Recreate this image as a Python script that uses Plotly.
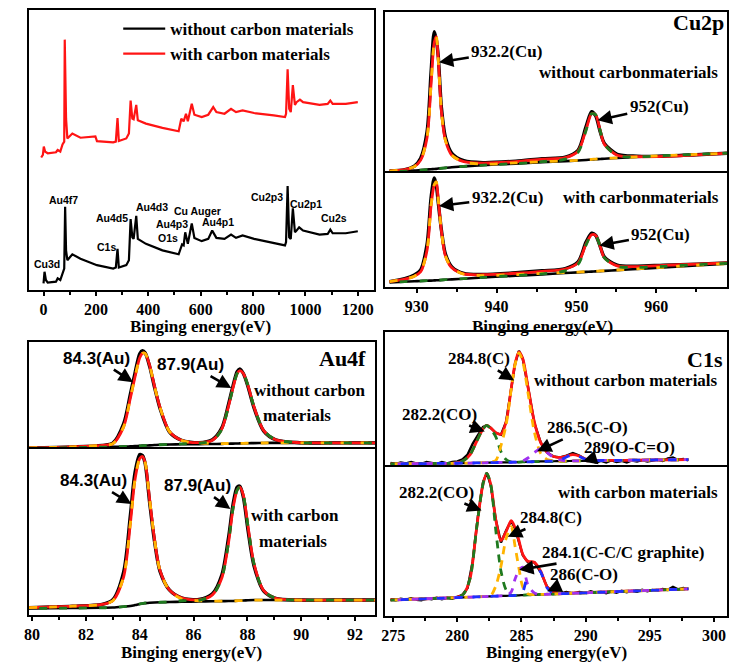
import plotly.graph_objects as go

# ---------------- survey (eV, intensity a.u.) ----------------
survey_black_x = [0, 3.75, 9, 16, 47.5, 54, 64, 72.5, 79, 82.5, 86, 91, 110, 141, 204, 266, 276, 282.5, 287.5, 316,
                  326, 332.5, 339, 344, 354, 360, 391, 454, 516, 529, 535, 541, 551, 566, 576, 604, 629, 644, 660, 691,
                  716, 735, 760, 804, 879, 922, 926, 932, 938, 944, 952, 960, 966, 976, 991, 1054, 1085, 1095, 1104, 1154, 1200]
survey_black_y = [6.3, 18, 9.7, 7, 8, 11.3, 9.7, 16.3, 21.3, 83.7, 39.7, 29.7, 35.7, 31.3, 24.7, 21.3, 22.3, 41.3, 22.3, 24.7,
                  29.7, 71.3, 53, 51.3, 74.7, 51.3, 46.3, 39.7, 35.7, 45.7, 44.7, 58, 46.3, 67, 52.3, 49, 51.3, 59.7, 52.3, 51.3,
                  55.7, 52.3, 54.7, 51.3, 47, 44.7, 48, 104.7, 53, 51.3, 82.3, 58, 59.7, 63, 59.7, 55.7, 56.3, 60.7, 57, 57, 59]
survey_red_x = [-9, -2.5, 1, 6, 16, 47.5, 54, 64, 72.5, 79, 81, 86, 91, 110, 141, 198, 204, 266, 276, 282.5,
                287.5, 316, 326, 332.5, 339, 344, 354, 360, 391, 454, 516, 526, 535, 544, 551, 566, 576, 604, 629, 648,
                660, 691, 716, 735, 760, 804, 879, 922, 926, 932, 938, 944, 952, 960, 966, 979, 991, 1054, 1085, 1095,
                1104, 1154, 1200]
survey_red_y = [133.7, 136.3, 144.7, 139.7, 138, 139, 141.3, 139.7, 147, 149.7, 253, 173, 153, 158, 153.7, 155, 150.3, 149, 149.7, 173.7,
                150.3, 153, 158, 191.3, 173, 172.3, 187, 171.3, 168, 163.7, 160.3, 173, 170.3, 178, 170.3, 188, 177, 174.7, 177, 184.7,
                179.7, 178, 183, 179.7, 181.3, 178.7, 176.3, 174.7, 178, 223, 183, 179.7, 207, 187, 189.7, 192.3, 189.7, 187, 188, 191.3,
                188, 188, 189.7]
survey_labels = ["Cu3d", "Au4f7", "Au4d5", "C1s", "Au4d3", "Cu Auger", "Au4p3", "O1s", "Au4p1", "Cu2p3", "Cu2p1", "Cu2s"]
survey_label_x = [15, 75, 262.5, 240, 412.5, 589, 491, 476, 667.5, 855, 1001, 1110]
survey_label_y = [26, 91, 72, 43, 84, 80, 66, 52, 68, 94, 87, 72]

# ---------------- Cu2p ----------------
cu_x = [926.6, 928.5, 929.7, 930.5, 931.3, 931.8, 932.2, 932.45, 932.7, 933.1, 933.6, 934.4, 935.9, 938.3, 942.4,
        945.7, 948.6, 950.2, 951.2, 951.9, 952.4, 953.0, 953.5, 955.1, 957.6, 960.9, 965.0, 968.85]
cu_top_raw = [2, 3.5, 7, 15, 42, 102, 143, 135, 118, 66, 36, 20, 12.5, 10.5, 12, 14.5, 16, 23, 47, 62, 58, 41, 30, 19, 17, 17, 18.5, 20]
cu_top_fit = [2, 3.5, 6.5, 13, 36, 90, 132, 138, 115, 62, 33, 18, 11.5, 10, 11.5, 14, 15.5, 22, 44, 60, 59, 42, 29, 18, 16.5, 16.8, 18.3, 20]
cu_top_bg = [1, 2, 2.5, 3, 3.5, 3.8, 4, 4.2, 4.5, 4.8, 5.2, 5.8, 6.7, 8, 9.5, 11, 12, 12.7, 13.2, 13.6, 13.9, 14.2, 14.5, 15.2, 16.2, 17.5, 18.8, 20]
cu_top_p1 = [2, 3.5, 6.5, 13, 36, 90, 132, 138, 115, 62, 33, 18, 11, 9, 10.2, 11.5, 12.2, 12.9, 13.4, 13.8, 14.1, 14.4, 14.7, 15.3, 16.3, 17.6, 18.9, 20]
cu_top_p2 = [1, 2, 2.5, 3, 3.5, 3.8, 4, 4.2, 4.5, 4.8, 5.2, 5.8, 6.7, 8, 9.6, 11.5, 14, 21, 43, 60, 59, 42, 29, 17.6, 16.4, 17.5, 18.9, 20]
cu_bot_raw = [5, 8, 11.7, 17, 43, 90, 110, 103, 85, 57, 33, 20, 13.3, 12.3, 14, 16, 18.3, 25, 45, 54, 52, 40, 30, 21.7, 20.7, 21.7, 22.7, 24]
cu_bot_fit = [5, 7.5, 10.5, 15, 37, 82, 103, 106, 88, 56, 31, 19, 12.8, 12, 13.5, 15.5, 17.8, 24, 43, 52.5, 52, 40, 29, 21, 20.3, 21.5, 22.7, 24]
cu_bot_bg = [4.3, 5, 5.4, 5.7, 6, 6.1, 6.3, 6.4, 6.5, 6.7, 7, 7.3, 8, 9.3, 11, 12.4, 13.7, 14.4, 14.9, 15.2, 15.4, 15.7, 15.9, 16.7, 17.8, 19.5, 21.5, 23.3]
cu_bot_p1 = [5, 7.5, 10.5, 15, 37, 82, 103, 106, 88, 56, 31, 19, 12.5, 11.2, 12.2, 13.3, 14.2, 14.7, 15.1, 15.4, 15.6, 15.9, 16.1, 16.8, 17.9, 19.6, 21.6, 23.3]
cu_bot_p2 = [4.3, 5, 5.4, 5.7, 6, 6.1, 6.3, 6.4, 6.5, 6.7, 7, 7.3, 8, 9.3, 11.2, 12.8, 16, 22.5, 42, 52.5, 52, 40, 29, 20.5, 19.5, 20.5, 22.2, 23.6]

# ---------------- Au4f ----------------
au_x = [79.88, 81.5, 82.6, 83.0, 83.4, 83.65, 83.82, 84.0, 84.1, 84.2, 84.37, 84.55, 84.75, 85.1, 85.55,
        86.2, 86.7, 87.05, 87.3, 87.47, 87.62, 87.72, 87.85, 88.02, 88.25, 88.6, 89.05, 89.95, 91.2, 92.76]
au_top_raw = [0.7, 1.8, 3.3, 5.5, 25, 55, 76, 96, 99, 97, 83, 62, 41, 17, 8.5, 6, 9, 21, 45, 64, 78, 80.7, 76, 63, 41, 18, 9, 6, 5.8, 5.8]
au_top_fit = [0.7, 1.8, 3.3, 5, 22, 51, 72, 92, 96.5, 96.5, 84, 63, 42, 17.5, 8.5, 6, 8.5, 20, 43, 62, 76, 79, 76, 64, 42, 18.5, 9, 6, 5.8, 5.8]
au_top_bg = [0.3, 1, 1.5, 1.8, 2, 2.3, 2.5, 2.8, 3, 3.1, 3.3, 3.6, 3.9, 4.2, 4.4, 4.6, 4.7, 4.8, 5, 5.1, 5.2, 5.3, 5.4, 5.5, 5.6, 5.7, 5.8, 5.8, 5.8, 5.8]
au_top_p1 = [0.7, 1.8, 3.3, 5, 22, 51, 72, 92, 96.5, 96.5, 84, 63, 42, 17.5, 8.3, 5.6, 5.2, 5.1, 5.2, 5.2, 5.3, 5.35, 5.4, 5.5, 5.6, 5.7, 5.8, 5.8, 5.8, 5.8]
au_top_p2 = [0.3, 1, 1.5, 1.8, 2, 2.3, 2.5, 2.8, 3, 3.1, 3.3, 3.6, 3.9, 4.3, 4.8, 5.5, 8, 19.5, 43, 62, 76, 79, 76, 64, 42, 18.5, 9, 6, 5.8, 5.8]
au_bot_raw = [7, 8.5, 10.3, 15, 43, 100, 143, 162, 161, 153, 113, 74, 44, 25, 17, 15.3, 21, 40, 78, 112, 129, 130, 119, 86, 49, 24, 16.5, 14.7, 14.7, 14.7]
au_bot_fit = [7, 8.5, 10.3, 14, 38, 92, 136, 158, 160, 154, 116, 76, 45, 25, 17, 15, 20, 37, 73, 108, 126, 129, 121, 90, 51, 24.5, 16.5, 14.7, 14.7, 14.7]
au_bot_bg = [6.3, 6.6, 6.9, 7.1, 8, 8.7, 9.6, 10.7, 11.3, 11.6, 12, 12.3, 12.5, 12.7, 13, 13.3, 13.5, 13.6, 13.7, 13.8, 14, 14.1, 14.3, 14.5, 14.7, 14.7, 14.7, 14.7, 14.7, 14.7]
au_bot_p1 = [7, 8.5, 10.3, 14, 38, 92, 136, 158, 160, 154, 116, 76, 45, 24.5, 16, 14, 13.7, 13.6, 13.7, 13.8, 14, 14.1, 14.3, 14.5, 14.7, 14.7, 14.7, 14.7, 14.7, 14.7]
au_bot_p2 = [6.3, 6.6, 6.9, 7.1, 8, 8.7, 9.6, 10.7, 11.3, 11.6, 12, 12.3, 12.5, 12.8, 14, 14.5, 19.5, 37, 73, 108, 126, 129, 121, 90, 51, 24.5, 16.5, 14.7, 14.7, 14.7]

# ---------------- C1s ----------------
c1_raw_x = [274.8, 275.2, 275.6, 276.0, 276.4, 276.8, 277.2, 277.6, 278.0, 278.4, 278.8, 279.2, 279.6, 280.0, 280.4,
            280.8, 281.2, 281.6, 282.0, 282.3, 282.6, 283.0, 283.4, 283.8, 284.2, 284.5, 284.8, 285.1, 285.5, 286.0,
            286.5, 287.0, 287.5, 288.0, 288.5, 289.0, 289.5, 290.0, 290.4, 290.8, 291.2, 291.6, 292.0, 292.4, 292.8,
            293.2, 293.6, 294.0, 294.4, 294.8, 295.2, 295.6, 296.0, 296.4, 296.8, 297.2, 297.6, 298.0]
c1_top_raw = [4.5, 3.5, 5, 4, 5.5, 4, 3.5, 5.5, 4.5, 3.5, 5.5, 4, 5.5, 6, 8,
              13, 24, 33, 41, 42.5, 40, 35, 33, 46, 80, 105, 118, 110, 82, 45,
              25, 15, 11, 10, 12, 14.5, 12, 8, 6.5, 5, 6.5, 5, 7, 5.5, 6.5,
              5, 7, 6, 7.5, 6, 7, 8, 6.5, 9, 10, 7.5, 8.5, 7]
c1_bot_raw = [16.5, 15.5, 17, 16, 17.5, 16, 15.5, 17.5, 16.5, 18, 16.5, 18, 17, 19, 21,
              28, 55, 100, 135, 144.5, 132, 97, 74, 86, 96, 88, 74, 61, 54, 54,
              44, 29, 24, 22.5, 24, 22.5, 24, 23, 24.5, 23, 24, 22.5, 24.5, 23, 25,
              23.5, 25, 24, 26, 24.5, 26, 25, 27, 26, 29, 26.5, 28, 27]
c1_x = [274.8, 276.5, 278.5, 280.0, 280.5, 281.0, 281.5, 282.0, 282.3, 282.6, 283.0, 283.4, 283.8, 284.2, 284.5, 284.8,
        285.1, 285.5, 286.0, 286.5, 287.0, 287.5, 288.0, 288.5, 289.0, 289.5, 290.0, 290.5, 291.5, 293.0, 295.0, 298.0]
c1_top_bg = [3.5, 3.8, 4.0, 4.2, 4.3, 4.4, 4.5, 4.6, 4.7, 4.8, 4.9, 5.0, 5.1, 5.2, 5.3, 5.4,
             5.5, 5.6, 5.8, 6.0, 6.1, 6.2, 6.3, 6.4, 6.5, 6.6, 6.7, 6.8, 7.0, 7.2, 7.5, 7.8]
c1_top_fit = [3.5, 3.8, 4.0, 4.5, 7, 13, 26, 39, 42.5, 40, 35, 33.5, 46, 80, 105, 117,
              110, 82, 46, 25, 15, 11, 10, 11.5, 13, 11.5, 8.5, 7.2, 7.1, 7.2, 7.5, 7.8]
c1_top_green = [3.5, 3.8, 4.0, 4.5, 7, 13, 26, 39, 42.5, 39, 31, 16, 8, 5.5, 5.3, 5.4,
                5.5, 5.6, 5.8, 6.0, 6.1, 6.2, 6.3, 6.4, 6.5, 6.6, 6.7, 6.8, 7.0, 7.2, 7.5, 7.8]
c1_top_orange = [3.5, 3.8, 4.0, 4.2, 4.3, 4.4, 4.5, 4.7, 5.0, 5.5, 7, 22, 43, 79, 104, 116,
                 107, 76, 36, 14, 8, 6.8, 6.4, 6.4, 6.5, 6.6, 6.7, 6.8, 7.0, 7.2, 7.5, 7.8]
c1_top_purple = [3.5, 3.8, 4.0, 4.2, 4.3, 4.4, 4.5, 4.6, 4.7, 4.8, 4.9, 5.0, 5.1, 5.2, 5.3, 5.6,
                 6.5, 9.5, 15, 19, 15, 10, 7.5, 6.6, 6.5, 6.6, 6.7, 6.8, 7.0, 7.2, 7.5, 7.8]
c1_top_blue = [3.5, 3.8, 4.0, 4.2, 4.3, 4.4, 4.5, 4.6, 4.7, 4.8, 4.9, 5.0, 5.1, 5.2, 5.3, 5.4,
               5.5, 5.6, 5.8, 6.0, 6.2, 6.5, 7.5, 10.5, 13, 11, 8, 7, 7.0, 7.2, 7.5, 7.8]
c1_bot_bg = [15.7, 16.5, 17.5, 18.2, 18.5, 18.7, 18.9, 19.2, 19.3, 19.5, 19.7, 19.9, 20.0, 20.2, 20.4, 20.5,
             20.7, 20.9, 21.1, 21.4, 21.6, 21.8, 22.1, 22.3, 22.6, 22.8, 23.0, 23.3, 23.8, 24.5, 25.5, 27.0]
c1_bot_fit = [16, 16.5, 17.6, 18.6, 22, 38, 88, 133, 144, 133, 97, 76, 85, 96, 89, 76,
              62, 55, 54, 45, 29, 24, 22.5, 22.6, 22.8, 23, 23.2, 23.4, 23.9, 24.6, 25.6, 27]
c1_bot_green = [15.7, 16.5, 17.5, 18.5, 22, 38, 88, 133, 144, 133, 86, 45, 26, 20.5, 20.4, 20.5,
                20.7, 20.9, 21.1, 21.4, 21.6, 21.8, 22.1, 22.3, 22.6, 22.8, 23.0, 23.3, 23.8, 24.5, 25.5, 27.0]
c1_bot_orange = [15.7, 16.5, 17.5, 18.2, 18.5, 18.7, 18.9, 19.2, 19.4, 20, 30, 50, 78, 90, 70, 48,
                 29, 22, 21.2, 21.4, 21.6, 21.8, 22.1, 22.3, 22.6, 22.8, 23.0, 23.3, 23.8, 24.5, 25.5, 27.0]
c1_bot_purple = [15.7, 16.5, 17.5, 18.2, 18.5, 18.7, 18.9, 19.2, 19.3, 19.5, 19.7, 19.9, 20.0, 24, 37, 46,
                 49, 31, 23, 21.5, 21.6, 21.8, 22.1, 22.3, 22.6, 22.8, 23.0, 23.3, 23.8, 24.5, 25.5, 27.0]
c1_bot_blue = [15.7, 16.5, 17.5, 18.2, 18.5, 18.7, 18.9, 19.2, 19.3, 19.5, 19.7, 19.9, 20.0, 20.2, 20.4, 20.5,
               24, 42, 52, 44, 28, 22.2, 22.1, 22.3, 22.6, 22.8, 23.0, 23.3, 23.8, 24.5, 25.5, 27.0]

# ---------------- figure ----------------
# The page body keeps its default 8px margin; the figure is sized so the page never scrolls.
W, H = 721, 655
SERIF = "Liberation Serif"
SANS = "Liberation Sans"
RED = "#FF1414"
ORANGE = "#FFB400"
GREEN = "#1F7A1F"
PURPLE = "#A030F0"
BLUE = "#1E2EFF"

fig = go.Figure()


def ax_names(n):
    return ("x", "y") if n == 1 else (f"x{n}", f"y{n}")


def add_line(x, y, n, color, width, dash=None, shape="spline", name=None, showlegend=False):
    xa, ya = ax_names(n)
    line = dict(color=color, width=width, shape=shape)
    if shape == "spline":
        line["smoothing"] = 0.8
    if dash:
        line["dash"] = dash
    fig.add_trace(go.Scatter(x=x, y=y, mode="lines", line=line, xaxis=xa, yaxis=ya,
                             name=name, showlegend=showlegend, hoverinfo="skip"))


# survey
add_line(survey_black_x, survey_black_y, 1, "black", 2.2, shape="linear",
         name="without carbon materials", showlegend=True)
add_line(survey_red_x, survey_red_y, 1, RED, 2.2, shape="linear",
         name="with carbon materials", showlegend=True)

D1 = "8px,12px"
D2 = "0px,10px,8px,2px"


def two_comp(n, x, raw, fit, bg, p1, p2, c1, c2):
    add_line(x, raw, n, "black", 3.4)
    add_line(x, bg, n, "black", 2.6)
    add_line(x, fit, n, RED, 2.8)
    add_line(x, p1, n, c1, 2.8, dash=D1)
    add_line(x, p2, n, c2, 2.8, dash=D2)


two_comp(2, cu_x, cu_top_raw, cu_top_fit, cu_top_bg, cu_top_p1, cu_top_p2, ORANGE, GREEN)
two_comp(3, cu_x, cu_bot_raw, cu_bot_fit, cu_bot_bg, cu_bot_p1, cu_bot_p2, ORANGE, GREEN)
two_comp(4, au_x, au_top_raw, au_top_fit, au_top_bg, au_top_p1, au_top_p2, ORANGE, GREEN)
two_comp(5, au_x, au_bot_raw, au_bot_fit, au_bot_bg, au_bot_p1, au_bot_p2, ORANGE, GREEN)


def c1_panel(n, raw, fit, bg, g, o, p, b):
    add_line(c1_raw_x, raw, n, "black", 2.4, shape="linear")
    add_line(c1_x, bg, n, "black", 2.2)
    add_line(c1_x, fit, n, RED, 2.8)
    add_line(c1_x, g, n, GREEN, 2.8, dash="8px,6px")
    add_line(c1_x, o, n, ORANGE, 2.8, dash="0px,4px,8px,2px")
    add_line(c1_x, p, n, PURPLE, 2.8, dash="0px,7px,7px,0px")
    add_line(c1_x, b, n, BLUE, 2.8, dash="0px,10px,8px,0px")


c1_panel(6, c1_top_raw, c1_top_fit, c1_top_bg, c1_top_green, c1_top_orange, c1_top_purple, c1_top_blue)
c1_panel(7, c1_bot_raw, c1_bot_fit, c1_bot_bg, c1_bot_green, c1_bot_orange, c1_bot_purple, c1_bot_blue)


# ---------------- layout helpers (reference pixel -> paper fraction) ----------------
def px_x(px):
    return (16 + (px - 24) * 704 / 711) / W


def px_y(py):
    return 1 - (1 + (py - 10) * 653 / 660) / H


def dom_x(a, b):
    return [px_x(a), px_x(b)]


def dom_y(top, bottom):
    return [px_y(bottom), px_y(top)]


TICKFONT = dict(family=SERIF, size=16, color="black", weight="bold")
LW = 2.4


def xaxis(n, domain, rng, ticks_on, dtick=None, tick0=None, minor=None):
    d = dict(domain=domain, range=rng, anchor=ax_names(n)[1], showline=True,
             linecolor="black", linewidth=LW, showgrid=False, zeroline=False, fixedrange=True)
    if ticks_on:
        d.update(mirror=True, ticks="outside", ticklen=4, tickwidth=2, tickcolor="black", showticklabels=True,
                 dtick=dtick, tick0=tick0, tickfont=TICKFONT, ticklabeloverflow="allow",
                 minor=dict(dtick=minor, tick0=tick0, ticks="outside", ticklen=3, tickwidth=1.5,
                            tickcolor="black", showgrid=False))
    else:
        # upper half of a stacked panel: only its top border
        d.update(side="top", mirror=False, ticks="", showticklabels=False)
    return d


def yaxis(n, domain, rng):
    return dict(domain=domain, range=rng, anchor=ax_names(n)[0], showline=True, mirror=True,
                linecolor="black", linewidth=LW, showgrid=False, zeroline=False,
                ticks="", showticklabels=False, fixedrange=True)


layout_axes = {}
panels = [
    (1, dom_x(24, 375), dom_y(10, 293), [-56, 1260], [0, 283], True, 200, 0, 100),
    (2, dom_x(387, 735), dom_y(12, 175), [926.07, 968.85], [0, 163], False, None, None, None),
    (3, dom_x(387, 735), dom_y(175, 290), [926.07, 968.85], [0, 115], True, 10, 930, 5),
    (4, dom_x(24, 377), dom_y(346, 454), [79.88, 92.76], [0, 108], False, None, None, None),
    (5, dom_x(24, 377), dom_y(454, 622), [79.88, 92.76], [0, 168], True, 2, 80, 1),
    (6, dom_x(387, 735), dom_y(336, 473), [274.39, 301.01], [0, 137], False, None, None, None),
    (7, dom_x(387, 735), dom_y(473, 623), [274.39, 301.01], [0, 150], True, 5, 275, 2.5),
]
for n, dxx, dyy, xr, yr, tk, dt, t0, mn in panels:
    key = "" if n == 1 else str(n)
    layout_axes["xaxis" + key] = xaxis(n, dxx, xr, tk, dt, t0, mn)
    layout_axes["yaxis" + key] = yaxis(n, dyy, yr)

# ---------------- annotations ----------------
annotations = []


def text(t, x, y, n, size=17, family=SERIF, ax=None, ay=None):
    xa, ya = ax_names(n)
    a = dict(text=t, x=x, y=y, xref=xa, yref=ya,
             font=dict(family=family, size=size, color="black", weight="bold"))
    if ax is None:
        a.update(showarrow=False, xanchor="center", yanchor="middle")
    else:
        a.update(showarrow=True, ax=ax, ay=ay, axref="pixel", ayref="pixel", arrowhead=2,
                 arrowsize=1.1, arrowwidth=2.6, arrowcolor="black", standoff=0, startstandoff=1)
    annotations.append(a)


for lab, lx, ly in zip(survey_labels, survey_label_x, survey_label_y):
    text(lab, lx, ly, 1, size=10.5, family=SANS)

# Cu2p
text("Cu2p", 965.29, 152, 2, size=22)
text("932.2(Cu)", 932.79, 112, 2, ax=67.8, ay=-11)
text("without carbonmaterials", 956.56, 102, 2)
text("952(Cu)", 952.64, 53.3, 2, ax=61.7, ay=-13.7)
text("932.2(Cu)", 932.79, 81.7, 3, ax=68.3, ay=-8.3)
text("with carbonmaterials", 958.03, 90, 3)
text("952(Cu)", 952.87, 41.7, 3, ax=61.5, ay=-11.3)

# Au4f
text("Au4f", 91.52, 91, 4, size=22)
text("84.3(Au)", 83.75, 67.3, 4, family=SANS, ax=-37, ay=-24)
text("87.9(Au)", 87.40, 61.3, 4, family=SANS, ax=-40.7, ay=-23.4)
text("without carbon", 90.32, 59, 4)
text("materials", 89.83, 34, 4)
text("84.3(Au)", 83.69, 112, 5, family=SANS, ax=-38.3, ay=-23.3)
text("87.9(Au)", 87.37, 107, 5, family=SANS, ax=-32.6, ay=-23.3)
text("with carbon", 89.77, 100.3, 5)
text("materials", 89.71, 73.7, 5)

# C1s
text("C1s", 299.33, 109.7, 6, size=22)
text("284.8(C)", 284.43, 88, 6, ax=-35, ay=-21.7)
text("without carbon materials", 293.17, 88, 6)
text("282.2(CO)", 282.14, 36.3, 6, ax=-45, ay=-17.4)
text("286.5(C-O)", 286.22, 16.3, 6, ax=50, ay=-23.4)
text("289(O-C=O)", 289.77, 6, 6, ax=47, ay=-14.3)
text("282.2(CO)", 281.89, 106.3, 7, ax=-45, ay=-18.4)
text("with carbon materials", 294.05, 124.7, 7)
text("284.8(C)", 283.93, 79.7, 7, ax=43.3, ay=-19.3)
text("284.1(C-C/C graphite)", 284.82, 46.3, 7, ax=104.2, ay=-17.4)
text("286(C-O)", 287.0, 24.7, 7, ax=37.3, ay=-16.6)

# axis titles
for cx, cy in [(199, 330), (547, 330), (190, 660.4), (561, 660.4)]:
    annotations.append(dict(text="Binging energy(eV)", x=px_x(cx), y=px_y(cy), xref="paper", yref="paper",
                            showarrow=False, xanchor="center", yanchor="middle",
                            font=dict(family=SERIF, size=17, color="black", weight="bold")))

fig.update_layout(
    width=W, height=H, margin=dict(l=0, r=0, t=0, b=0),
    paper_bgcolor="white", plot_bgcolor="white",
    showlegend=True,
    legend=dict(x=px_x(115), y=px_y(11), xanchor="left", yanchor="top",
                font=dict(family=SERIF, size=17, color="black", weight="bold"),
                bgcolor="rgba(0,0,0,0)", borderwidth=0, itemwidth=42, tracegroupgap=0),
    annotations=annotations,
    **layout_axes,
)

fig.write_html("out.html")
